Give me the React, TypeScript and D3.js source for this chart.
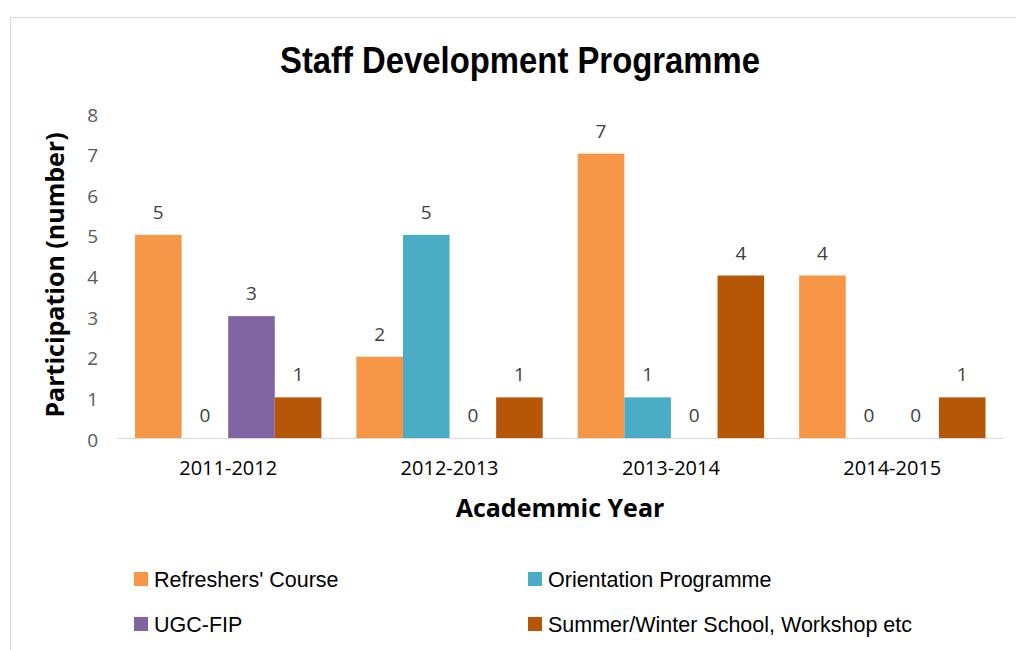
import * as d3 from "d3";
import { useEffect, useRef } from "react";

const years = ["2011-2012", "2012-2013", "2013-2014", "2014-2015"];
const series = [
  "Refreshers' Course",
  "Orientation Programme",
  "UGC-FIP",
  "Summer/Winter School, Workshop etc",
];
const colors = ["#F79646", "#4BACC6", "#8064A2", "#B65708"];
const refreshers = [5, 2, 7, 4];
const orientation = [0, 5, 1, 0];
const ugcFip = [3, 0, 0, 0];
const summerWinter = [1, 1, 4, 1];
const yTicks = [0, 1, 2, 3, 4, 5, 6, 7, 8];

const App = () => {
  const ref = useRef<SVGSVGElement>(null);

  useEffect(() => {
    const svg = d3.select(ref.current);
    svg.selectAll("*").remove();

    const values = [refreshers, orientation, ugcFip, summerWinter];
    const rows = years.flatMap((year, i) =>
      series.map((s, j) => ({ year, s, j, value: values[j][i] }))
    );

    // chart frame
    svg
      .append("rect")
      .attr("x", 10.5)
      .attr("y", 17.5)
      .attr("width", 1020)
      .attr("height", 650)
      .attr("fill", "#fff")
      .attr("stroke", "#D9D9D9");

    // title
    svg
      .append("text")
      .attr("x", 520)
      .attr("y", 73)
      .attr("text-anchor", "middle")
      .attr("textLength", 480)
      .attr("lengthAdjust", "spacingAndGlyphs")
      .style("font-family", "'Liberation Sans', Arial, sans-serif")
      .style("font-weight", "bold")
      .style("font-size", "36px")
      .attr("fill", "#000")
      .text("Staff Development Programme");

    const x0 = d3.scaleBand().domain(years).range([117.5, 1003]);
    const x1 = d3
      .scaleBand()
      .domain(series)
      .range([0, x0.bandwidth()])
      .paddingInner(0)
      .paddingOuter(0.376);
    const y = d3.scaleLinear().domain([0, 8]).range([438, 113]);

    // y tick labels
    const yAxis = svg
      .append("g")
      .attr("transform", "translate(98,2)")
      .call(d3.axisLeft(y).tickValues(yTicks).tickSize(0).tickPadding(0));
    yAxis.select(".domain").remove();
    yAxis
      .selectAll("text")
      .style("font-family", "'Open Sans', sans-serif")
      .style("font-size", "19px")
      .attr("fill", "#595959");

    // bars
    svg
      .append("g")
      .selectAll("rect")
      .data(rows)
      .join("rect")
      .attr("x", (d) => x0(d.year)! + x1(d.s)!)
      .attr("y", (d) => y(d.value))
      .attr("width", x1.bandwidth())
      .attr("height", (d) => y(0) - y(d.value))
      .attr("fill", (d) => colors[d.j]);

    // value labels
    svg
      .append("g")
      .selectAll("text")
      .data(rows)
      .join("text")
      .attr("x", (d) => x0(d.year)! + x1(d.s)! + x1.bandwidth() / 2)
      .attr("y", (d) => y(d.value) - 16)
      .attr("text-anchor", "middle")
      .style("font-family", "'Open Sans', sans-serif")
      .style("font-size", "19px")
      .attr("fill", "#404040")
      .text((d) => d.value);

    // baseline
    svg
      .append("line")
      .attr("x1", 117.5)
      .attr("x2", 1003)
      .attr("y1", y(0) + 0.5)
      .attr("y2", y(0) + 0.5)
      .attr("stroke", "#D9D9D9");

    // x category labels
    const xAxis = svg
      .append("g")
      .attr("transform", `translate(0,${y(0)})`)
      .call(d3.axisBottom(x0).tickSize(0).tickPadding(0));
    xAxis.select(".domain").remove();
    xAxis
      .selectAll("text")
      .attr("y", 37)
      .attr("dy", 0)
      .style("font-family", "'Open Sans', sans-serif")
      .style("font-size", "20px")
      .attr("fill", "#000");

    // axis titles
    svg
      .append("text")
      .attr("x", 560)
      .attr("y", 517)
      .attr("text-anchor", "middle")
      .style("font-family", "'Open Sans', sans-serif")
      .style("font-weight", "bold")
      .style("font-size", "25px")
      .attr("fill", "#000")
      .text("Academmic Year");

    svg
      .append("text")
      .attr("transform", "translate(64,275) rotate(-90)")
      .attr("text-anchor", "middle")
      .style("font-family", "'Open Sans', sans-serif")
      .style("font-weight", "bold")
      .style("font-size", "25px")
      .attr("fill", "#000")
      .text("Participation (number)");

    // legend
    const legend = svg
      .append("g")
      .selectAll("g")
      .data(series)
      .join("g")
      .attr(
        "transform",
        (d, i) => `translate(${i % 2 === 0 ? 134 : 528},${i < 2 ? 572 : 617})`
      );
    legend
      .append("rect")
      .attr("x", 0)
      .attr("y", 0)
      .attr("width", 14)
      .attr("height", 14)
      .attr("fill", (d, i) => colors[i]);
    legend
      .append("text")
      .attr("x", 20)
      .attr("y", 15)
      .style("font-family", "'Liberation Sans', Arial, sans-serif")
      .style("font-size", "21.5px")
      .attr("fill", "#000")
      .text((d) => d);
  }, []);

  return (
    <svg
      width={1016}
      height={650}
      ref={ref}
      style={{ position: "absolute", left: 0, top: 0 }}
    />
  );
};

export default App;
